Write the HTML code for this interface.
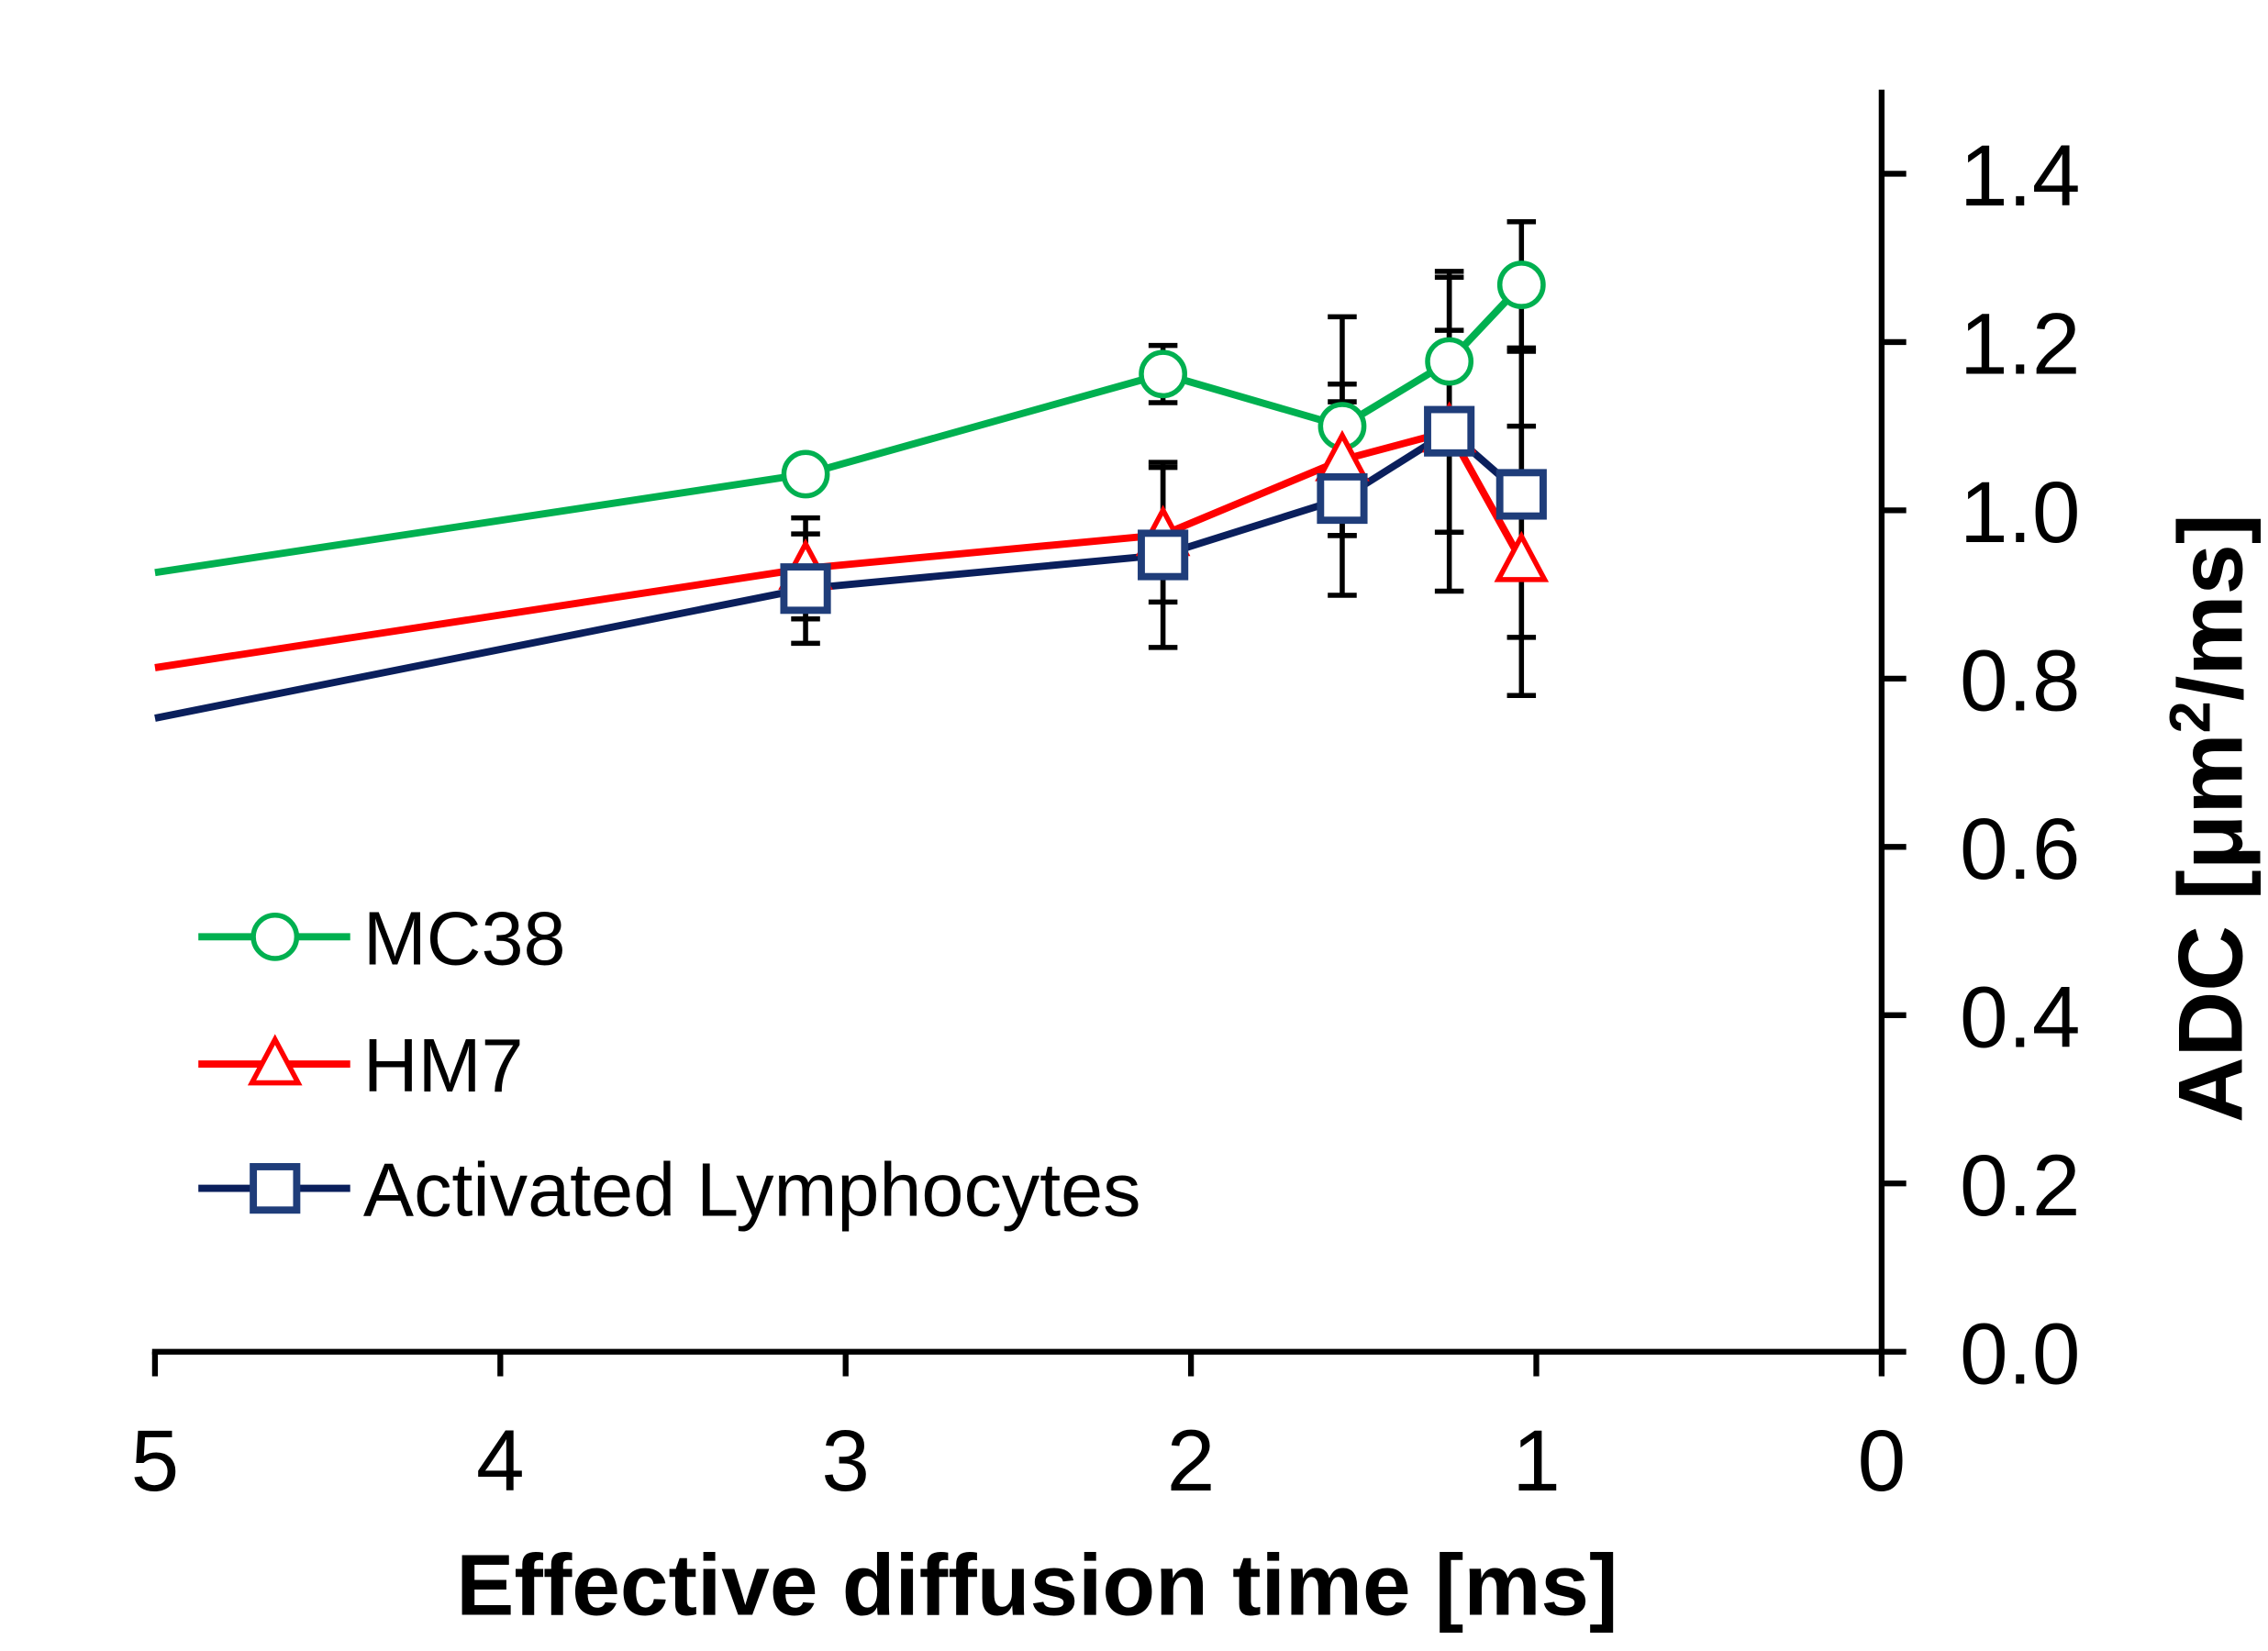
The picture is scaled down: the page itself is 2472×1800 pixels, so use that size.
<!DOCTYPE html>
<html><head><meta charset="utf-8"><style>html,body{margin:0;padding:0;background:#fff}svg{display:block}</style></head>
<body>
<svg id="chart" width="2472" height="1800" viewBox="0 0 1568 1142" xmlns="http://www.w3.org/2000/svg" font-family="Liberation Sans, Arial, sans-serif">
<g id="axes"></g>
<g id="series"></g>
<g id="legend"></g>
<text x="717" y="1117" font-size="60" font-weight="bold" text-anchor="middle">Effective diffusion time [ms]</text>
<text transform="translate(1550,566) rotate(-90)" font-size="63" font-weight="bold" text-anchor="middle">ADC [μm<tspan font-size="40" dy="-22">2</tspan><tspan dy="22">/ms]</tspan></text>
</svg>
<script>
const times = [5, 3.116, 2.081, 1.562, 1.252, 1.043];
const mc38 = [0.926, 1.043, 1.162, 1.100, 1.177, 1.268];
const mc38Err = [0, 0.01, 0.034, 0.13, 0.10, 0.075];
const hm7 = [0.813, 0.931, 0.971, 1.060, 1.094, 0.940];
const hm7Err = [0, 0.06, 0.08, 0.09, 0.12, 0.16];
const lymph = [0.753, 0.907, 0.947, 1.014, 1.094, 1.019];
const lymphErr = [0, 0.065, 0.11, 0.115, 0.19, 0.17];
const xTicks = [5, 4, 3, 2, 1, 0];
const yTicks = [0, 0.2, 0.4, 0.6, 0.8, 1.0, 1.2, 1.4];

const NS = 'http://www.w3.org/2000/svg';
const X = t => 1301 - t * 238.8;
const Y = v => 935 - v * 582;
function mk(tag, attrs, parent) { const e = document.createElementNS(NS, tag); for (const k in attrs) e.setAttribute(k, attrs[k]); parent.appendChild(e); return e; }
const axes = document.getElementById('axes');
const ser = document.getElementById('series');
const leg = document.getElementById('legend');

let a = mk('line', {x1: 105, y1: 935, x2: 1303, y2: 935, stroke: '#000', 'stroke-width': 4}, axes);
 
a = mk('line', {x1: 1301, y1: 62, x2: 1301, y2: 937, stroke: '#000', 'stroke-width': 4}, axes);
 
xTicks.forEach(t => {
  const l = mk('line', {x1: X(t), y1: 935, x2: X(t), y2: 952, stroke: '#000', 'stroke-width': 4}, axes);
   
  const tx = mk('text', {x: X(t), y: 1031, 'font-size': 60, 'text-anchor': 'middle'}, axes);
  tx.textContent = t;
   
});
yTicks.forEach(v => {
  const l = mk('line', {x1: 1301, y1: Y(v), x2: 1318, y2: Y(v), stroke: '#000', 'stroke-width': 4}, axes);
   
  const tx = mk('text', {x: 1355, y: Y(v) + 22, 'font-size': 60}, axes);
  tx.textContent = v.toFixed(1);
   
});

function marker(kind, cx, cy, color, parent) {
  let m;
  if (kind === 'circle') m = mk('circle', {cx, cy, r: 15, fill: '#fff', stroke: color, 'stroke-width': 3.5}, parent);
  else if (kind === 'tri') m = mk('polygon', {points: `${cx},${cy - 17} ${cx + 16},${cy + 13} ${cx - 16},${cy + 13}`, fill: '#fff', stroke: color, 'stroke-width': 3.5}, parent);
  else m = mk('rect', {x: cx - 15, y: cy - 15, width: 30, height: 30, fill: '#fff', stroke: color, 'stroke-width': 5}, parent);
  return m;
}

const seriesList = [
  {name: 'mc38', vals: mc38, err: mc38Err, line: '#00b050', mcol: '#00b050', kind: 'circle'},
  {name: 'hm7', vals: hm7, err: hm7Err, line: '#ff0000', mcol: '#ff0000', kind: 'tri'},
  {name: 'lymph', vals: lymph, err: lymphErr, line: '#0a1f5c', mcol: '#1f3d7a', kind: 'sq'}
];
seriesList.forEach(s => {
  const pts = times.map((t, i) => X(t) + ',' + Y(s.vals[i])).join(' ');
  const pl = mk('polyline', {points: pts, fill: 'none', stroke: s.line, 'stroke-width': 5}, ser);
   
});
seriesList.forEach(s => {
  times.forEach((t, i) => {
    if (i === 0) return;
    const x = X(t), hi = Y(s.vals[i] + s.err[i]), lo = Y(s.vals[i] - s.err[i]);
    const g = mk('g', {stroke: '#000', 'stroke-width': 3.5}, ser);
     
    mk('line', {x1: x, y1: hi, x2: x, y2: lo}, g);
    mk('line', {x1: x - 10, y1: hi, x2: x + 10, y2: hi}, g);
    mk('line', {x1: x - 10, y1: lo, x2: x + 10, y2: lo}, g);
  });
});
seriesList.forEach(s => {
  times.forEach((t, i) => {
    if (i === 0) return;
    const m = marker(s.kind, X(t), Y(s.vals[i]), s.mcol, ser);
     
  });
});
const labels = ['MC38', 'HM7', 'Activated Lymphocytes'];
const ly = [648, 736, 822];
seriesList.forEach((s, i) => {
  const g = mk('g', {}, leg);
   
  mk('line', {x1: 137, y1: ly[i], x2: 242, y2: ly[i], stroke: s.line, 'stroke-width': 5}, g);
  marker(s.kind, 190, ly[i], s.mcol, g);
  const tx = mk('text', {x: 251, y: ly[i] + 19, 'font-size': 52.5}, g);
  tx.textContent = labels[i];
});
</script>
</body></html>
